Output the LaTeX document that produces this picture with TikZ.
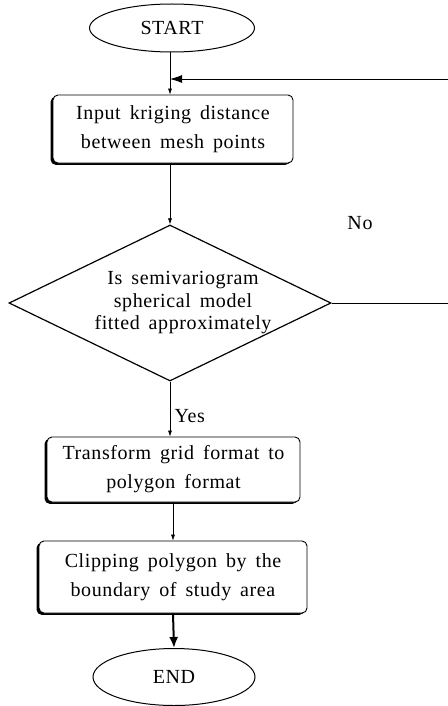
\documentclass[tikz,border=0pt]{standalone}
\usepackage{fontspec}
\setmainfont{Liberation Serif}[LetterSpace=3,WordSpace=1.6]
\usetikzlibrary{shapes.geometric,shadows,arrows.meta}
\begin{document}
\begin{tikzpicture}[x=1pt,y=1pt,>={Latex[length=6pt,width=4pt]},
  term/.style={draw,ellipse,line width=1pt,inner sep=0pt},
  proc/.style={draw,rounded corners=5pt,fill=white,line width=0.9pt,align=center,inner sep=0pt,
    drop shadow={shadow xshift=-2.4pt,shadow yshift=-1.8pt,fill=black,opacity=1}},
  decision/.style={draw,diamond,line width=1.2pt,minimum width=322pt,minimum height=156pt,inner sep=0pt},
  font=\fontsize{20}{29}\selectfont]
\useasboundingbox (0,0) rectangle (447,-706);

\node[term,minimum width=165pt,minimum height=48pt] (start) at (172,-28) {START};
\node[proc,minimum width=240pt,minimum height=68pt] (input) at (173,-129) {Input kriging distance\\between mesh points};
\node[decision] (check) at (170,-303) {};
\node[align=center,font=\fontsize{20}{22.5}\selectfont] (checktxt) at (183,-303) {Is semivariogram\\spherical model\\fitted approximately};
\node[proc,minimum width=253pt,minimum height=65pt] (transform) at (173.5,-469.5) {Transform grid format to\\polygon format};
\node[proc,minimum width=268pt,minimum height=72pt] (clip) at (173,-577) {Clipping polygon by the\\boundary of study area};
\node[term,minimum width=162pt,minimum height=57pt] (end) at (174,-677) {END};

\coordinate (loopin) at (170,-79);
\draw[->,line width=0.6pt] (start.south -| loopin) -- (loopin |- input.north);
\draw[-{Latex[length=12pt,width=8pt]},line width=0.8pt] (check.east) -- ++(130,0) |- (loopin);
\node (no) at (360,-223) {No};
\draw[->,line width=0.6pt] (input.south -| loopin) -- (loopin |- check.north);
\draw[->,line width=0.6pt] (check.south) -- (check.south |- transform.north) node[pos=0.62,right=1pt] (yes) {Yes};
\draw[->,line width=0.5pt] (transform.south -| clip.north) -- (clip.north);
\draw[-{Latex[length=11pt,width=9pt]},line width=2pt] (clip.south) -- (end.north);
\end{tikzpicture}
\end{document}
